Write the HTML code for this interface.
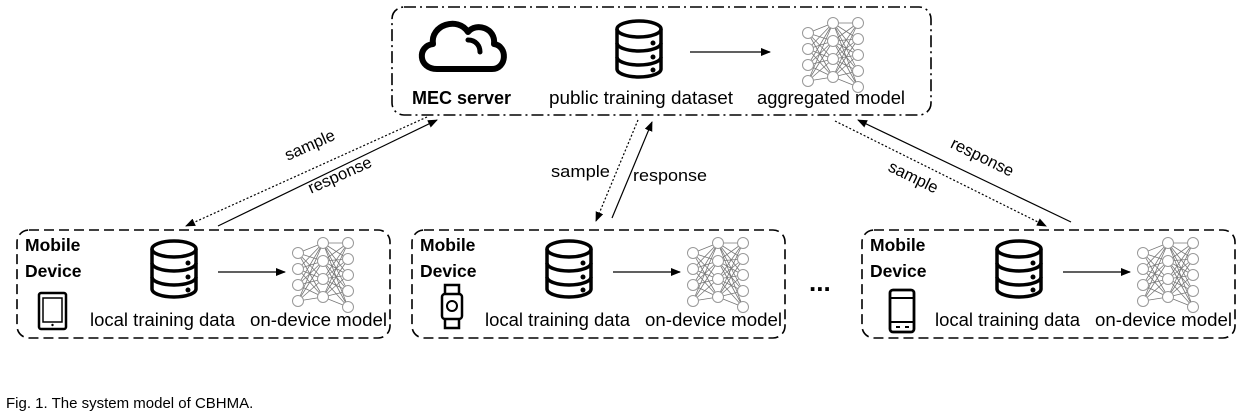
<!DOCTYPE html>
<html><head><meta charset="utf-8"><style>
html,body{margin:0;padding:0;background:#fff;}
svg{display:block;}
text{font-family:"Liberation Sans",sans-serif;fill:#000;}
</style></head><body>
<svg width="1247" height="416" viewBox="0 0 1247 416" xmlns="http://www.w3.org/2000/svg">
<defs>
<marker id="ah" markerWidth="10" markerHeight="8" refX="9" refY="4" orient="auto" markerUnits="userSpaceOnUse">
<path d="M0,0 L10,4 L0,8 z" fill="#000"/></marker>
<g id="db">
<path d="M2,10 A22,8 0 0 1 46,10 L46,50 A22,8 0 0 1 2,50 Z" fill="#fff" stroke="#000" stroke-width="3.5"/>
<path d="M2,10 A22,8 0 0 0 46,10 M2,24 A22,8 0 0 0 46,24 M2,38 A22,8 0 0 0 46,38" fill="none" stroke="#000" stroke-width="3.5"/>
<circle cx="38" cy="24" r="2.5"/><circle cx="38" cy="38" r="2.5"/><circle cx="38" cy="51" r="2.5"/>
</g>
<g id="nn" stroke="#777" stroke-width="0.8" fill="none">
<path d="M6,16 L31,6 M6,16 L31,24 M6,16 L31,42 M6,16 L31,60 M6,32 L31,6 M6,32 L31,24 M6,32 L31,42 M6,32 L31,60 M6,48 L31,6 M6,48 L31,24 M6,48 L31,42 M6,48 L31,60 M6,64 L31,6 M6,64 L31,24 M6,64 L31,42 M6,64 L31,60"/>
<path d="M31,6 L56,6 M31,6 L56,22 M31,6 L56,38 M31,6 L56,54 M31,6 L56,70 M31,24 L56,6 M31,24 L56,22 M31,24 L56,38 M31,24 L56,54 M31,24 L56,70 M31,42 L56,6 M31,42 L56,22 M31,42 L56,38 M31,42 L56,54 M31,42 L56,70 M31,60 L56,6 M31,60 L56,22 M31,60 L56,38 M31,60 L56,54 M31,60 L56,70"/>
<g fill="#fff" stroke="#999" stroke-width="1">
<circle cx="6" cy="16" r="5.5"/><circle cx="6" cy="32" r="5.5"/><circle cx="6" cy="48" r="5.5"/><circle cx="6" cy="64" r="5.5"/>
<circle cx="31" cy="6" r="5.5"/><circle cx="31" cy="24" r="5.5"/><circle cx="31" cy="42" r="5.5"/><circle cx="31" cy="60" r="5.5"/>
<circle cx="56" cy="6" r="5.5"/><circle cx="56" cy="22" r="5.5"/><circle cx="56" cy="38" r="5.5"/><circle cx="56" cy="54" r="5.5"/><circle cx="56" cy="70" r="5.5"/>
</g></g>
</defs>

<rect x="392" y="7" width="539" height="108" rx="12" fill="none" stroke="#000" stroke-width="1.6" stroke-dasharray="12,4,2,4"/>
<path d="M437,69 C418,69 417,46 433,44 C430,25 458,16 468,32 C476,22 496,28 494,44 C508,46 507,69 492,69 Z" fill="none" stroke="#000" stroke-width="6" stroke-linejoin="round"/>
<path d="M468,40 C476,40 480,46 480,52" fill="none" stroke="#000" stroke-width="5" stroke-linecap="round"/>
<use href="#db" x="615" y="19"/>
<line x1="690" y1="52" x2="770" y2="52" stroke="#000" stroke-width="1.2" marker-end="url(#ah)"/>
<use href="#nn" x="802" y="17"/>
<text x="412" y="104" font-size="18" font-weight="bold">MEC server</text>
<text x="549" y="104" font-size="18" textLength="184" lengthAdjust="spacingAndGlyphs">public training dataset</text>
<text x="757" y="104" font-size="18" textLength="148" lengthAdjust="spacingAndGlyphs">aggregated model</text>

<g id="b1">
<rect x="17" y="230" width="373" height="108" rx="12" fill="none" stroke="#000" stroke-width="1.6" stroke-dasharray="10,5"/>
<text x="25" y="251" font-size="17.5" font-weight="bold">Mobile</text>
<text x="25" y="277" font-size="17.5" font-weight="bold">Device</text>
<use href="#db" x="150" y="239"/>
<line x1="218" y1="272" x2="285" y2="272" stroke="#000" stroke-width="1.2" marker-end="url(#ah)"/>
<use href="#nn" x="292" y="237"/>
<text x="90" y="326" font-size="18" textLength="145" lengthAdjust="spacingAndGlyphs">local training data</text>
<text x="250" y="326" font-size="18" textLength="137" lengthAdjust="spacingAndGlyphs">on-device model</text>
</g>
<rect x="39" y="293" width="27" height="36" rx="2" fill="none" stroke="#000" stroke-width="2.5"/>
<rect x="43" y="298" width="19" height="24" fill="none" stroke="#000" stroke-width="1.5"/>
<circle cx="52.5" cy="325" r="1.2"/>

<use href="#b1" x="395"/>
<rect x="445" y="285" width="14" height="10" fill="none" stroke="#000" stroke-width="2.5"/>
<rect x="445" y="318" width="14" height="10" fill="none" stroke="#000" stroke-width="2.5"/>
<rect x="442" y="294" width="20" height="25" rx="3" fill="#fff" stroke="#000" stroke-width="2.5"/>
<circle cx="452" cy="306" r="5" fill="none" stroke="#000" stroke-width="2"/>

<use href="#b1" x="845"/>
<rect x="890" y="290" width="24" height="42" rx="3" fill="none" stroke="#000" stroke-width="2.8"/>
<line x1="890" y1="298" x2="914" y2="298" stroke="#000" stroke-width="2"/>
<line x1="890" y1="322" x2="914" y2="322" stroke="#000" stroke-width="2"/>
<line x1="896" y1="327" x2="900" y2="327" stroke="#000" stroke-width="2"/>
<line x1="905" y1="327" x2="909" y2="327" stroke="#000" stroke-width="2"/>

<text x="809" y="291" font-size="26" font-weight="bold">...</text>

<line x1="427" y1="117" x2="186" y2="226" stroke="#000" stroke-width="1.2" stroke-dasharray="2,2" marker-end="url(#ah)"/>
<line x1="218" y1="226" x2="437" y2="120" stroke="#000" stroke-width="1.2" marker-end="url(#ah)"/>
<text x="312" y="150" font-size="16.5" text-anchor="middle" transform="rotate(-24 312 150)">sample</text>
<text x="342" y="180" font-size="16.5" text-anchor="middle" transform="rotate(-24 342 180)">response</text>

<line x1="638" y1="120" x2="596" y2="221" stroke="#000" stroke-width="1.2" stroke-dasharray="2,2" marker-end="url(#ah)"/>
<line x1="612" y1="218" x2="652" y2="122" stroke="#000" stroke-width="1.2" marker-end="url(#ah)"/>
<text x="551" y="177" font-size="17" textLength="59" lengthAdjust="spacingAndGlyphs">sample</text>
<text x="633" y="181" font-size="17" textLength="74" lengthAdjust="spacingAndGlyphs">response</text>

<line x1="1071" y1="222" x2="858" y2="120" stroke="#000" stroke-width="1.2" marker-end="url(#ah)"/>
<line x1="835" y1="121" x2="1046" y2="226" stroke="#000" stroke-width="1.2" stroke-dasharray="2,2" marker-end="url(#ah)"/>
<text x="980" y="162" font-size="16.5" text-anchor="middle" transform="rotate(26 980 162)">response</text>
<text x="911" y="182" font-size="16.5" text-anchor="middle" transform="rotate(26 911 182)">sample</text>

<text x="6" y="408" font-size="15">Fig. 1. The system model of CBHMA.</text>
</svg>
</body></html>
